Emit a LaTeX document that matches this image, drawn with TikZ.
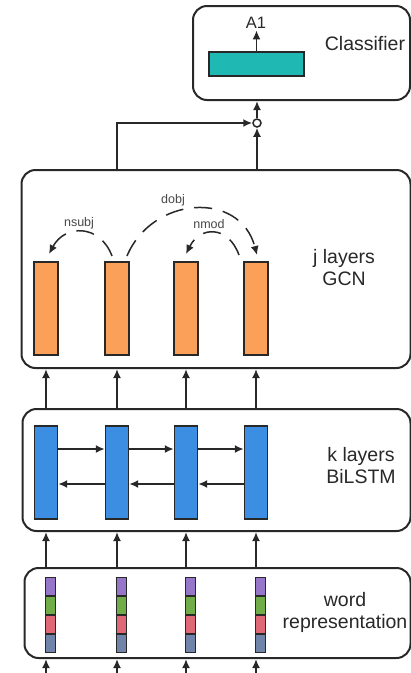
\documentclass[tikz,border=0pt]{standalone}
\usepackage{fontspec}
\setmainfont{Liberation Sans}
\usetikzlibrary{arrows.meta,positioning}

\definecolor{tealc}{RGB}{32,184,178}
\definecolor{orng}{RGB}{250,160,88}
\definecolor{blu}{RGB}{60,142,226}
\definecolor{wpurple}{RGB}{150,118,200}
\definecolor{wgreen}{RGB}{112,172,72}
\definecolor{wred}{RGB}{222,104,118}
\definecolor{wslate}{RGB}{112,132,170}
\definecolor{ink}{RGB}{40,40,40}

\begin{document}
\begin{tikzpicture}[x=1pt,y=-1pt,
  panel/.style={draw=ink,line width=2pt,rounded corners=14pt,inner sep=0pt,
    anchor=north west,fill=white},
  bar/.style={draw=ink,line width=1.4pt,inner sep=0pt,minimum width=24pt,minimum height=93pt},
  gbar/.style={bar,fill=orng},
  lbar/.style={bar,fill=blu,minimum width=23pt},
  seg/.style={draw=ink,line width=1.2pt,inner sep=0pt,minimum width=10pt,minimum height=17.75pt},
  arr/.style={draw=ink,line width=1.8pt,-{Latex[length=9pt,width=8pt]}},
  dep/.style={draw=ink,line width=1.5pt,dash pattern=on 18pt off 11pt,-{Latex[length=9pt,width=8pt]}},
  big/.style={font=\fontsize{19.5}{22}\selectfont,text=ink,align=center,inner sep=0pt},
  rel/.style={font=\fontsize{12.5}{14}\selectfont,text=ink!85,inner sep=1pt}
]
\useasboundingbox (0,0) rectangle (411,673);

% panels
\node[panel,minimum width=217pt,minimum height=94pt] (cls) at (192,5) {};
\node[panel,minimum width=389pt,minimum height=198pt] (gcn) at (20.5,169) {};
\node[panel,minimum width=388pt,minimum height=122pt] (lstm) at (21.5,408) {};
\node[panel,minimum width=386pt,minimum height=90pt] (word) at (23.5,567) {};

% panel captions
\node[big,anchor=base] (tcls) at (365,50) {Classifier};
\node[big] (tgcn) at (344,267.5) {j layers\\GCN};
\node[big] (tlstm) at (361,466) {k layers\\BiLSTM};
\node[big] (tword) at (345,612) {word\\representation};

% classifier
\node[draw=ink,line width=1.4pt,fill=tealc,minimum width=95pt,minimum height=24pt,inner sep=0pt] (lin) at (256.5,64) {};
\node[font=\fontsize{16.5}{18}\selectfont,text=ink,anchor=base,inner sep=0pt] (out) at (256,28) {A1};
\draw[arr] (lin.north) -- ++(0,-21);

% GCN, BiLSTM and word vectors
\foreach \i/\x in {1/46,2/117,3/186,4/256} {
  \node[gbar] (g\i) at (\x,308.5) {};
  \node[lbar] (b\i) at (\x,472.5) {};
  \node[seg,fill=wpurple] (w\i a) at (\x+4.5,586.5) {};
  \node[seg,fill=wgreen,below=0pt of w\i a] (w\i b) {};
  \node[seg,fill=wred,below=0pt of w\i b] (w\i c) {};
  \node[seg,fill=wslate,below=0pt of w\i c] (w\i d) {};
  \coordinate (in\i) at (\x,673);
  \draw[arr] (in\i) -- (in\i |- word.south);
  \draw[arr] (b\i |- word.north) -- (b\i |- lstm.south);
  \draw[arr] (g\i |- lstm.north) -- (g\i |- gcn.south);
}

% BiLSTM recurrences
\foreach \i/\j in {1/2,2/3,3/4} {
  \draw[arr] (b\i.east |- 0,449) -- (b\j.west |- 0,449);
  \draw[arr] (b\j.west |- 0,484) -- (b\i.east |- 0,484);
}

% composition into the classifier
\node[draw=ink,line width=1.5pt,circle,minimum size=8pt,inner sep=0pt] (comb) at (257,123) {};
\draw[arr] (comb.north) -- (comb |- cls.south);
\draw[arr] (comb |- gcn.north) -- (comb.south);
\draw[arr] (g2 |- gcn.north) |- (comb.west);

% dependency arcs
\coordinate (s1) at (112,256);
\coordinate (e1) at (49,254);
\coordinate (s2) at (127,256);
\coordinate (e2) at (257,255);
\coordinate (s3) at (239,255);
\coordinate (e3) at (186,254);
\draw[dep] (s1) .. controls (100,224) and (65,224) .. (e1);
\draw[dep] (s2) .. controls (152,196) and (240,190) .. (e2);
\draw[dep] (s3) .. controls (228,225) and (200,226) .. (e3);
\node[rel] (r1) at (79,223) {nsubj};
\node[rel] (r2) at (173,200) {dobj};
\node[rel] (r3) at (209,224) {nmod};
\end{tikzpicture}
\end{document}
